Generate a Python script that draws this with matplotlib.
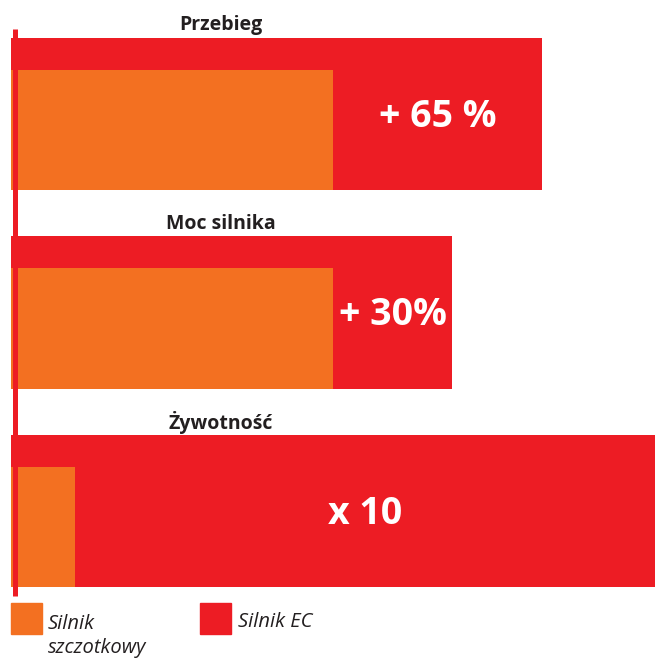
import matplotlib.pyplot as plt
from matplotlib.patches import Rectangle

categories = ['Przebieg', 'Moc silnika', 'Żywotność']
szczotkowy = [100, 100, 20]      # Silnik szczotkowy
silnik_ec = [165, 137, 200]      # Silnik EC
gain_labels = ['+ 65 %', '+ 30%', 'x 10']
legend_labels = ['Silnik\nszczotkowy', 'Silnik EC']

RED = '#ED1C24'
ORANGE = '#F37021'

plt.rcParams['font.family'] = ['Open Sans', 'DejaVu Sans']

fig = plt.figure(figsize=(6.58, 6.59), dpi=100)
ax = fig.add_axes([0, 0, 1, 1])
ax.set_xlim(-11 / 3.22, 647 / 3.22)
ax.set_ylim((190 - 659) / 198.5, 190 / 198.5)
ax.axis('off')

pos = [-i for i in range(len(categories))]

ax.barh(pos, silnik_ec, height=0.766, align='edge', color=RED, zorder=1)
ax.barh(pos, szczotkowy, height=0.605, align='edge', color=ORANGE, zorder=2)

# vertical axis line
ax.plot([1.09, 1.09], [0.811, -2.045], color=RED, lw=3.6, solid_capstyle='butt', zorder=3)

for y, name, a, b, lab in zip(pos, categories, szczotkowy, silnik_ec, gain_labels):
    ax.text(65.2, y + 0.83, name, ha='center', va='center', fontsize=14,
            fontweight='bold', color='#231f20')
    ax.text((a + b) / 2, y + 0.37, lab, ha='center', va='center', fontsize=27,
            fontweight='bold', color='white', zorder=4)

# legend
W, H = 658.0, 659.0
fig.patches.append(Rectangle((11 / W, 1 - 634 / H), 31 / W, 31 / H,
                             transform=fig.transFigure, color=ORANGE))
fig.patches.append(Rectangle((200 / W, 1 - 634 / H), 31 / W, 31 / H,
                             transform=fig.transFigure, color=RED))
fig.text(48 / W, 1 - 636 / H, legend_labels[0], ha='left', va='center',
         fontsize=14.5, style='italic', color='#231f20', linespacing=1.25)
fig.text(238 / W, 1 - 622 / H, legend_labels[1], ha='left', va='center',
         fontsize=14.5, style='italic', color='#231f20')

fig.savefig('out.png', dpi=100)
